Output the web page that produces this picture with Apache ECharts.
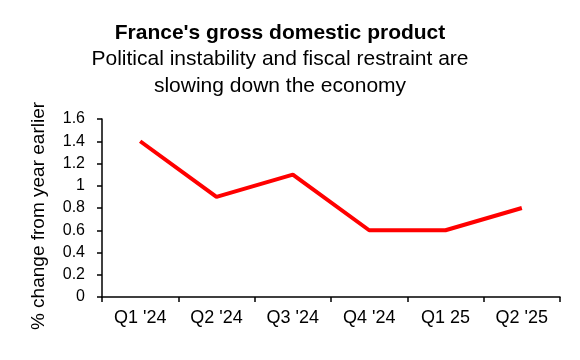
<!DOCTYPE html>
<html>
<head>
<meta charset="utf-8">
<script src="https://cdn.jsdelivr.net/npm/echarts@6/dist/echarts.min.js"></script>
<style>
html,body{margin:0;padding:0;background:#fff;}
#c{width:580px;height:360px;}
</style>
</head>
<body>
<div id="c"></div>
<script>
const categories = ["Q1 '24", "Q2 '24", "Q3 '24", "Q4 '24", "Q1 25", "Q2 '25"];
const gdpGrowth = [1.4, 0.9, 1.1, 0.6, 0.6, 0.8];
const titleText = "France's gross domestic product";
const subtitleText = "Political instability and fiscal restraint are\nslowing down the economy";
const yAxisName = "% change from year earlier";

const FONT = "'Liberation Sans', Arial, sans-serif";
const chart = echarts.init(document.getElementById('c'), null, {renderer: 'canvas'});
chart.setOption({
  animation: false,
  backgroundColor: '#ffffff',
  title: {
    text: titleText,
    subtext: subtitleText,
    left: 275,
    top: 16,
    textAlign: 'center',
    itemGap: 0,
    textStyle: {fontFamily: FONT, fontSize: 21, fontWeight: 'bold', color: '#000', lineHeight: 25},
    subtextStyle: {fontFamily: FONT, fontSize: 21, color: '#000', lineHeight: 27, align: 'center'}
  },
  grid: {left: 102, right: 20, top: 119, bottom: 63, containLabel: false},
  xAxis: {
    type: 'category',
    data: categories,
    boundaryGap: true,
    axisLine: {lineStyle: {color: '#000', width: 1.5}},
    axisTick: {show: true, length: 5, lineStyle: {color: '#000', width: 1.5}},
    axisLabel: {fontFamily: FONT, fontSize: 18, color: '#000', margin: 12}
  },
  yAxis: {
    type: 'value',
    min: 0, max: 1.6, interval: 0.2,
    name: yAxisName,
    nameLocation: 'middle',
    nameGap: 54,
    nameTextStyle: {fontFamily: FONT, fontSize: 19, color: '#000', padding: [0, 16, 0, 0]},
    axisLine: {show: true, lineStyle: {color: '#000', width: 1.5}},
    axisTick: {show: true, length: 5, lineStyle: {color: '#000', width: 1.5}},
    splitLine: {show: false},
    axisLabel: {fontFamily: FONT, fontSize: 16, color: '#000', margin: 17,
      formatter: v => String(Math.round(v * 10) / 10)}
  },
  series: [{
    type: 'line',
    data: gdpGrowth,
    showSymbol: false,
    symbol: 'none',
    lineStyle: {color: '#ff0000', width: 4},
    itemStyle: {color: '#ff0000'}
  }]
});
</script>
</body>
</html>
